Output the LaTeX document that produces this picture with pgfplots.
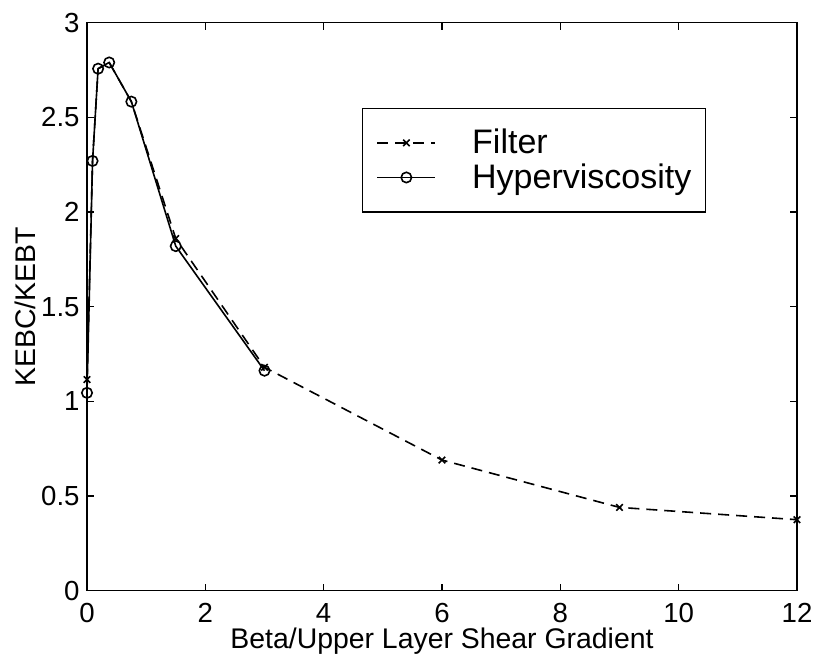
\documentclass[border=0pt]{standalone}
\usepackage{pgfplots}
\pgfplotsset{compat=1.18}
\usepackage{fontspec}
\setmainfont{Liberation Sans}
\begin{document}
\begin{tikzpicture}
\path[use as bounding box] (-43.5pt,-36pt) rectangle (365.5pt,295.35pt);
\begin{axis}[
  at={(0,0)}, anchor=south west,
  scale only axis,
  width=355pt, height=284pt,
  xmin=0, xmax=12, ymin=0, ymax=3,
  xtick={0,2,...,12},
  ytick={0,0.5,1,1.5,2,2.5,3},
  yticklabels={0,0.5,1,1.5,2,2.5,3},
  tick align=inside,
  major tick length=3.5pt,
  tick style={black, line width=0.6pt},
  axis line style={line width=0.75pt},
  /pgf/number format/assume math mode=true,
  ticklabel style={font=\fontsize{13.8}{15}\selectfont, inner sep=0pt},
  xticklabel style={anchor=north, yshift=-6pt},
  yticklabel style={anchor=east, xshift=-3.5pt},
  xlabel={Beta/Upper Layer Shear Gradient},
  ylabel={KEBC/KEBT},
  label style={font=\fontsize{14.2}{16}\selectfont, inner sep=0pt},
  xlabel style={at={(axis description cs:0.5,0)}, anchor=base, yshift=-29pt},
  ylabel style={at={(axis description cs:-0.0873,0.5)}, anchor=center},
  legend style={at={(0.3873,0.8504)}, anchor=north west, draw=black, line width=0.6pt,
    font=\fontsize{17}{19}\selectfont, inner xsep=7pt, inner ysep=8.65pt, row sep=0pt,
    nodes={inner sep=0pt, minimum height=17.3pt},
    /tikz/every odd column/.append style={column sep=18pt},
    legend cell align=left},
  legend image code/.code={\draw[#1] (0pt,0pt) -- (29pt,0pt); \draw[#1, only marks] plot coordinates {(14.5pt,0pt)};},
]
\addplot[black, line width=0.8pt, dash pattern=on 5.5pt off 3.5pt, mark=x, mark size=2.3pt,
  mark options={solid}, mark indices={1,6,7,8,9,10}]
  coordinates {(0,1.115) (0.09375,2.27) (0.1875,2.757) (0.375,2.79) (0.75,2.583) (1.5,1.86) (3,1.18) (6,0.69) (9,0.44) (12,0.375)};
\addlegendentry{Filter}
\addplot[black, line width=0.8pt, mark=o, mark size=2.6pt]
  coordinates {(0,1.045) (0.09375,2.27) (0.1875,2.757) (0.375,2.79) (0.75,2.583) (1.5,1.82) (3,1.162)};
\addlegendentry{Hyperviscosity}
\end{axis}
\end{tikzpicture}
\end{document}
